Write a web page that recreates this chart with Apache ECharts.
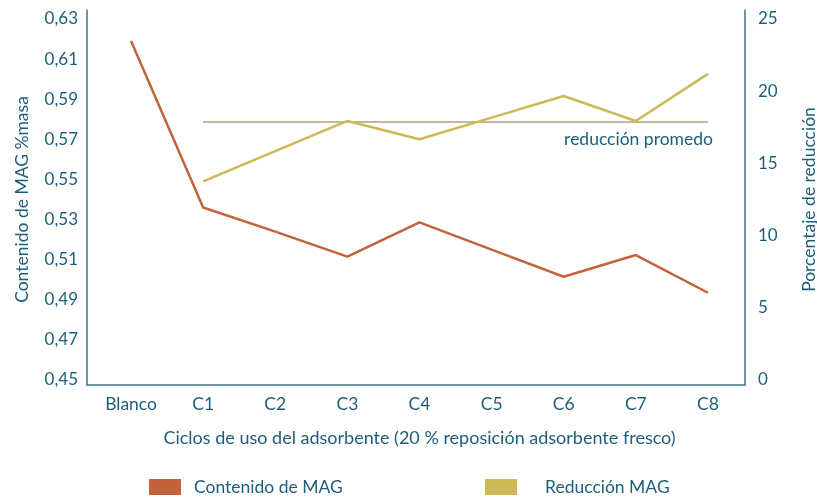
<!DOCTYPE html>
<html>
<head>
<meta charset="utf-8">
<script src="https://cdn.jsdelivr.net/npm/echarts@6/dist/echarts.min.js"></script>
<style>
html,body{margin:0;padding:0;background:#fff;}
#chart{width:817px;height:497px;}
</style>
</head>
<body>
<div id="chart"></div>
<script>
const categories = ['Blanco', 'C1', 'C2', 'C3', 'C4', 'C5', 'C6', 'C7', 'C8'];
const contenidoMAG = [0.619, 0.536, 0.524, 0.5115, 0.5286, 0.515, 0.5015, 0.5123, 0.4935];
const reduccionMAG = [null, 13.75, 15.85, 17.94, 16.67, 18.17, 19.67, 17.94, 21.2];
const reduccionPromedio = 17.9;
const leftTicks = { min: 0.45, max: 0.63, interval: 0.02 };
const rightTicks = { min: 0, max: 25, interval: 5 };

const TEXT = '#1d5e7a';
const AXIS = '#3d7389';
const FONT = 'Lato';
const ORANGE = '#c4623c';
const YELLOW = '#cdb955';
const FS = 17.5;

const chart = echarts.init(document.getElementById('chart'));
chart.setOption({
  animation: false,
  textStyle: { fontFamily: FONT, color: TEXT },
  legend: [
    { data: ['Contenido de MAG'], left: 149, top: 478, padding: 0, icon: 'rect', itemWidth: 32, itemHeight: 16,
      textStyle: { fontFamily: FONT, fontSize: FS, color: TEXT, padding: [0, 0, 0, 8] } },
    { data: ['Reducción MAG'], left: 485, top: 478, padding: 0, icon: 'rect', itemWidth: 32, itemHeight: 16,
      textStyle: { fontFamily: FONT, fontSize: FS, color: TEXT, padding: [0, 0, 0, 23] } }
  ],
  grid: [
    { left: 95, right: 73, top: 19, bottom: 117, containLabel: false, outerBoundsMode: 'none' },
    { left: 87, right: 72, top: 10, bottom: 112, containLabel: false, outerBoundsMode: 'none' }
  ],
  xAxis: [
    { type: 'category', gridIndex: 0, data: categories, boundaryGap: true,
      axisLine: { show: false }, axisTick: { show: false },
      axisLabel: { color: TEXT, fontFamily: FONT, fontSize: FS, margin: 15 },
      name: 'Ciclos de uso del adsorbente (20 % reposición adsorbente fresco)',
      nameLocation: 'middle', nameGap: 49,
      nameTextStyle: { color: TEXT, fontFamily: FONT, fontSize: 18 } },
    { type: 'value', gridIndex: 1, min: 0, max: 1,
      axisLine: { show: true, lineStyle: { color: AXIS, width: 1.5 } },
      axisTick: { show: false }, axisLabel: { show: false }, splitLine: { show: false } }
  ],
  yAxis: [
    { type: 'value', gridIndex: 0, position: 'left', offset: 8,
      min: leftTicks.min, max: leftTicks.max, interval: leftTicks.interval,
      axisLine: { show: false }, axisTick: { show: false }, splitLine: { show: false },
      axisLabel: { color: TEXT, fontFamily: FONT, fontSize: 17, margin: 9,
        formatter: v => v.toFixed(2).replace('.', ',') },
      name: 'Contenido de MAG %masa', nameLocation: 'middle', nameGap: 56, nameRotate: 90,
      nameTextStyle: { color: TEXT, fontFamily: FONT, fontSize: FS } },
    { type: 'value', gridIndex: 0, position: 'right',
      min: rightTicks.min, max: rightTicks.max, interval: rightTicks.interval,
      axisLine: { show: false }, axisTick: { show: false }, splitLine: { show: false },
      axisLabel: { color: TEXT, fontFamily: FONT, fontSize: 17, margin: 14 },
      name: 'Porcentaje de reducción', nameLocation: 'middle', nameGap: 56, nameRotate: 90,
      nameTextStyle: { color: TEXT, fontFamily: FONT, fontSize: FS } },
    { type: 'value', gridIndex: 1, position: 'left', min: 0, max: 1,
      axisLine: { show: true, lineStyle: { color: AXIS, width: 1.5 } },
      axisTick: { show: false }, axisLabel: { show: false }, splitLine: { show: false } },
    { type: 'value', gridIndex: 1, position: 'right', min: 0, max: 1,
      axisLine: { show: true, lineStyle: { color: AXIS, width: 1.5 } },
      axisTick: { show: false }, axisLabel: { show: false }, splitLine: { show: false } }
  ],
  series: [
    { name: 'Contenido de MAG', type: 'line', xAxisIndex: 0, yAxisIndex: 0,
      data: contenidoMAG, showSymbol: false, symbol: 'none',
      lineStyle: { color: ORANGE, width: 2.5 }, itemStyle: { color: ORANGE }, z: 3 },
    { name: 'Reducción MAG', type: 'line', xAxisIndex: 0, yAxisIndex: 1,
      data: reduccionMAG, showSymbol: false, symbol: 'none',
      lineStyle: { color: YELLOW, width: 2.5 }, itemStyle: { color: YELLOW }, z: 3,
      markLine: {
        silent: true, symbol: 'none', z: 2,
        lineStyle: { color: '#a9a383', width: 1.5, type: 'solid' },
        label: { show: true, position: 'insideEndBottom', formatter: 'reducción promedo',
          color: TEXT, fontFamily: FONT, fontSize: FS, distance: [0, 9], offset: [5, 0] },
        data: [[ { coord: ['C1', reduccionPromedio] }, { coord: ['C8', reduccionPromedio] } ]]
      } }
  ]
});
</script>
</body>
</html>
